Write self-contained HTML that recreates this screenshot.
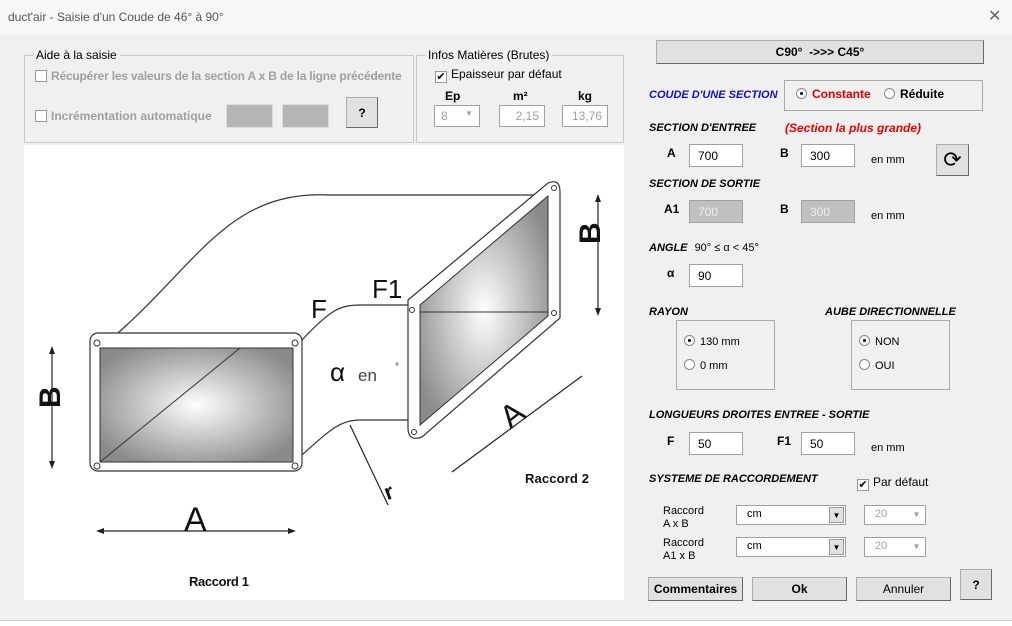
<!DOCTYPE html>
<html><head><meta charset="utf-8"><style>
*{box-sizing:border-box}
body{margin:0;width:1012px;height:626px;background:#f0f0f0;font-family:"Liberation Sans",sans-serif;font-size:12px;color:#000;position:relative;overflow:hidden}
.a{position:absolute}
.b{font-weight:bold}
.bi{font-weight:bold;font-style:italic;font-size:11px}
.in{position:absolute;background:#fff;border:1px solid #a0a0a0;height:23px;padding:4px 8px;font-size:12px}
.dis{background:#c0c0c0;color:#eee}
.btn{position:absolute;background:#e1e1e1;border:1px solid #adadad;border-right-color:#696969;border-bottom-color:#696969;display:flex;align-items:center;justify-content:center;font-weight:bold;font-size:12px}
.fs{position:absolute;border:1px solid #c8c8c8}
.lg{position:absolute;top:-8px;left:8px;background:#f0f0f0;padding:0 3px;font-size:12px}
.cb{display:inline-block;width:12px;height:12px;border:1px solid #999;background:#fff;vertical-align:-2px;margin-right:4px;font-size:11px;line-height:10px;text-align:center}
.rd{display:inline-block;width:11px;height:11px;border-radius:50%;border:1px solid #888;background:#fff;vertical-align:-1px;margin-right:5px;position:relative}
.rd.on:after{content:"";position:absolute;left:3px;top:3px;width:3px;height:3px;border-radius:50%;background:#000}
.gr{color:#a0a0a0}
</style></head><body>
<div class="a" style="left:0;top:0;width:1012px;height:34px;background:#f7f7f7"></div>
<div class="a" style="left:8px;top:10px;font-size:12px;color:#555">duct'air - Saisie d'un Coude de 46° à 90°</div>
<div class="a" style="left:988px;top:6px;font-size:16px;color:#666">✕</div>

<div class="fs" style="left:24px;top:55px;width:390px;height:88px"><span class="lg">Aide à la saisie</span></div>
<div class="a b gr" style="left:35px;top:69px;letter-spacing:-0.2px"><span class="cb"></span>Récupérer les valeurs de la section A x B de la ligne précédente</div>
<div class="a b gr" style="left:35px;top:109px"><span class="cb"></span>Incrémentation automatique</div>
<div class="a" style="left:226px;top:104px;width:47px;height:24px;background:#b5b5b5;border:1px solid #ddd"></div>
<div class="a" style="left:282px;top:104px;width:47px;height:24px;background:#b5b5b5;border:1px solid #ddd"></div>
<div class="btn" style="left:346px;top:97px;width:32px;height:31px">?</div>

<div class="fs" style="left:416px;top:55px;width:208px;height:88px"><span class="lg">Infos Matières (Brutes)</span></div>
<div class="a" style="left:435px;top:67px"><span class="cb">✔</span>Epaisseur par défaut</div>
<div class="a b" style="left:445px;top:89px">Ep</div>
<div class="a b" style="left:513px;top:89px">m²</div>
<div class="a b" style="left:578px;top:89px">kg</div>
<div class="in gr" style="left:434px;top:105px;width:46px;height:22px;padding:3px 6px">8 <span style="float:right;font-size:8px">▼</span></div>
<div class="in gr" style="left:499px;top:105px;width:46px;height:22px;padding:3px 5px;text-align:right">2,15</div>
<div class="in gr" style="left:562px;top:105px;width:46px;height:22px;padding:3px 5px;text-align:right">13,76</div>

<svg class="a" style="left:24px;top:145px" width="600" height="455" viewBox="24 145 600 455">
<defs><radialGradient id="g" cx="50%" cy="50%" r="60%"><stop offset="0" stop-color="#fff"/><stop offset="1" stop-color="#8a8a8a"/></radialGradient></defs>
<rect x="24" y="145" width="600" height="455" fill="#fff"/>
<g fill="none" stroke="#333" stroke-width="1.2">
<path d="M118 333 C200 260 230 190 330 195 L548 195"/>
<path d="M302 340 C330 310 340 305 360 305 L412 305"/>
<path d="M302 455 C330 430 340 420 360 420 L412 420"/>
</g>
<rect x="90" y="333" width="212" height="138" rx="8" fill="#fff" stroke="#333" stroke-width="1.2"/>
<rect x="100" y="348" width="193" height="114" fill="url(#g)" stroke="#333"/>
<line x1="100" y1="462" x2="240" y2="348" stroke="#333"/>
<path d="M408 300 L548 183 Q560 178 560 192 L560 318 L422 437 Q408 442 408 428 Z" fill="#fff" stroke="#333" stroke-width="1.2"/>
<path d="M420 305 L548 196 L548 316 L420 425 Z" fill="url(#g)" stroke="#333"/>
<line x1="420" y1="312" x2="548" y2="312" stroke="#333"/>
<g fill="#fff" stroke="#333"><circle cx="97" cy="343" r="3"/><circle cx="295" cy="343" r="3"/><circle cx="97" cy="466" r="3"/><circle cx="295" cy="466" r="3"/><circle cx="554" cy="188" r="2.5"/><circle cx="412" cy="310" r="2.5"/><circle cx="554" cy="313" r="2.5"/><circle cx="414" cy="432" r="2.5"/></g>
<g stroke="#222" stroke-width="1.2">
<line x1="52" y1="350" x2="52" y2="465"/><line x1="598" y1="198" x2="598" y2="312"/><line x1="100" y1="531" x2="292" y2="531"/><line x1="452" y1="472" x2="582" y2="376"/><line x1="350" y1="425" x2="388" y2="505"/>
</g>
<g fill="#222"><path d="M52 346 l-3 8 h6z"/><path d="M52 469 l-3 -8 h6z"/><path d="M598 194 l-3 8 h6z"/><path d="M598 316 l-3 -8 h6z"/><path d="M96 531 l8 -3 v6z"/><path d="M296 531 l-8 -3 v6z"/></g>
<g font-family="Liberation Sans,sans-serif" fill="#111">
<text x="48" y="420" font-size="30" font-weight="bold" transform="rotate(-90 48 408)">B</text>
<text x="598" y="262" font-size="30" font-weight="bold" transform="rotate(-90 590 252)">B</text>
<text x="184" y="531" font-size="34">A</text>
<text x="500" y="425" font-size="32" transform="rotate(-38 512 412)">A</text>
<text x="311" y="318" font-size="26">F</text>
<text x="372" y="298" font-size="26">F1</text>
<text x="330" y="381" font-size="26">α</text><text x="358" y="381" font-size="17" fill="#444">en</text><text x="395" y="370" font-size="10">°</text>
<text x="384" y="498" font-size="22" font-weight="bold" transform="rotate(-20 392 490)">r</text>
<text x="189" y="586" font-size="13" font-weight="bold" textLength="60">Raccord 1</text>
<text x="525" y="483" font-size="13" font-weight="bold" textLength="64">Raccord 2</text>
</g></svg>

<div class="btn" style="left:656px;top:40px;width:328px;height:24px">C90°&nbsp; -&gt;&gt;&gt; C45°</div>
<div class="a bi" style="left:649px;top:89px;color:#1010c0">COUDE D'UNE SECTION</div>
<div class="fs" style="left:784px;top:80px;width:199px;height:31px;border-color:#aaa"></div>
<div class="a b" style="left:796px;top:87px;color:#e00000"><span class="rd on"></span>Constante</div>
<div class="a b" style="left:884px;top:87px"><span class="rd"></span>Réduite</div>

<div class="a bi" style="left:649px;top:122px">SECTION D'ENTREE</div>
<div class="a bi" style="left:785px;top:121px;color:#f00000;font-size:12px">(Section la plus grande)</div>
<div class="a b" style="left:667px;top:146px">A</div>
<div class="in" style="left:689px;top:144px;width:54px">700</div>
<div class="a b" style="left:780px;top:146px">B</div>
<div class="in" style="left:801px;top:144px;width:54px">300</div>
<div class="a" style="left:871px;top:154px;font-size:11px">en mm</div>
<div class="btn" style="left:936px;top:144px;width:33px;height:32px;font-size:22px;font-weight:normal">⟳</div>

<div class="a bi" style="left:649px;top:178px">SECTION DE SORTIE</div>
<div class="a b" style="left:664px;top:202px">A1</div>
<div class="in dis" style="left:689px;top:200px;width:54px">700</div>
<div class="a b" style="left:780px;top:202px">B</div>
<div class="in dis" style="left:801px;top:200px;width:54px">300</div>
<div class="a" style="left:871px;top:210px;font-size:11px">en mm</div>

<div class="a bi" style="left:649px;top:242px">ANGLE <span style="font-style:normal;font-weight:normal;font-size:11px;margin-left:4px">90° ≤ α &lt; 45°</span></div>
<div class="a b" style="left:667px;top:266px">α</div>
<div class="in" style="left:689px;top:264px;width:54px">90</div>

<div class="a bi" style="left:649px;top:306px">RAYON</div>
<div class="fs" style="left:676px;top:320px;width:99px;height:70px;border-color:#aaa"></div>
<div class="a" style="left:684px;top:335px;font-size:11px"><span class="rd on"></span>130 mm</div>
<div class="a" style="left:684px;top:359px;font-size:11px"><span class="rd"></span>0 mm</div>
<div class="a bi" style="left:825px;top:306px">AUBE DIRECTIONNELLE</div>
<div class="fs" style="left:851px;top:320px;width:99px;height:70px;border-color:#aaa"></div>
<div class="a" style="left:859px;top:335px;font-size:11px"><span class="rd on"></span>NON</div>
<div class="a" style="left:859px;top:359px;font-size:11px"><span class="rd"></span>OUI</div>

<div class="a bi" style="left:649px;top:409px">LONGUEURS DROITES ENTREE - SORTIE</div>
<div class="a b" style="left:667px;top:434px">F</div>
<div class="in" style="left:689px;top:432px;width:54px">50</div>
<div class="a b" style="left:777px;top:434px">F1</div>
<div class="in" style="left:801px;top:432px;width:54px">50</div>
<div class="a" style="left:871px;top:442px;font-size:11px">en mm</div>

<div class="a bi" style="left:649px;top:473px">SYSTEME DE RACCORDEMENT</div>
<div class="a" style="left:857px;top:475px"><span class="cb">✔</span>Par défaut</div>
<div class="a" style="left:663px;top:505px;font-size:11px;line-height:13px">Raccord<br>A x B</div>
<div class="in" style="left:736px;top:505px;width:110px;height:20px;padding:2px 10px;font-size:11px">cm<span style="position:absolute;right:1px;top:1px;width:15px;height:16px;background:#e1e1e1;border:1px solid #999;font-size:8px;text-align:center;line-height:15px">▼</span></div>
<div class="in gr" style="left:864px;top:505px;width:62px;height:20px;padding:2px 10px;font-size:11px">20<span style="position:absolute;right:1px;top:1px;font-size:8px;width:15px;text-align:center;line-height:15px">▼</span></div>
<div class="a" style="left:663px;top:537px;font-size:11px;line-height:13px">Raccord<br>A1 x B</div>
<div class="in" style="left:736px;top:537px;width:110px;height:20px;padding:2px 10px;font-size:11px">cm<span style="position:absolute;right:1px;top:1px;width:15px;height:16px;background:#e1e1e1;border:1px solid #999;font-size:8px;text-align:center;line-height:15px">▼</span></div>
<div class="in gr" style="left:864px;top:537px;width:62px;height:20px;padding:2px 10px;font-size:11px">20<span style="position:absolute;right:1px;top:1px;font-size:8px;width:15px;text-align:center;line-height:15px">▼</span></div>

<div class="btn" style="left:648px;top:577px;width:95px;height:24px">Commentaires</div>
<div class="btn" style="left:752px;top:577px;width:95px;height:24px">Ok</div>
<div class="btn" style="left:856px;top:577px;width:95px;height:24px;font-weight:normal">Annuler</div>
<div class="btn" style="left:960px;top:569px;width:32px;height:31px">?</div>
<div class="a" style="left:0;top:620px;width:1012px;height:6px;background:#fff;border-top:1px solid #ccc"></div>
</body></html>
